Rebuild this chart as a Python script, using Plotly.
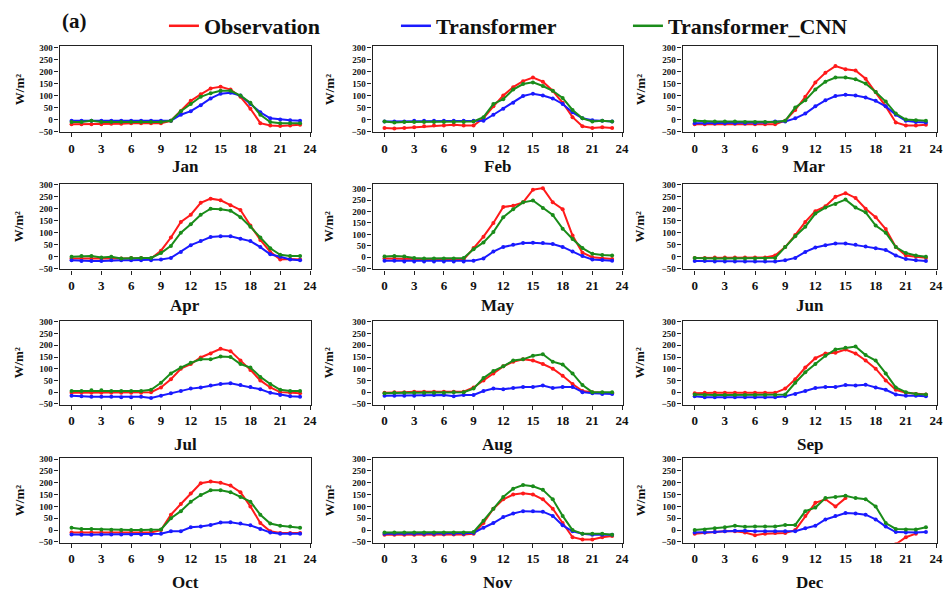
import plotly.graph_objects as go

hours = list(range(24))
months = ["Jan", "Feb", "Mar", "Apr", "May", "Jun", "Jul", "Aug", "Sep", "Oct", "Nov", "Dec"]
N = None

observation = {
    "Jan": [-20,-20,-20,-20,-18,-18,-15,-15,-15,-15,-5,35,78,105,130,137,125,95,45,-15,-25,-27,-25,-22],
    "Feb": [-35,-37,-35,-32,-28,-25,-25,-22,-25,-25,5,55,100,135,160,175,158,120,70,10,-28,-35,-32,-35],
    "Mar": [-20,-20,-18,-18,-18,-18,-20,-20,-20,-5,40,95,155,195,223,210,205,170,115,55,-12,-25,-25,-22],
    "Apr": [-8,-8,-8,-8,-5,-8,-5,-5,-8,25,80,145,175,225,242,235,215,195,130,70,20,-12,-10,-12],
    "May": [-5,-5,-5,-8,-10,-10,-10,-10,-10,40,90,150,220,225,240,295,302,240,210,95,20,0,-5,-8],
    "Jun": [-5,-5,-3,-3,-3,-3,-3,-3,5,40,90,145,190,210,250,265,245,200,165,115,40,5,0,-5],
    "Jul": [-3,-3,-3,-3,-3,-3,-3,-3,0,20,55,100,120,148,165,185,175,135,95,50,20,0,-3,-5],
    "Aug": [-3,0,0,2,2,2,2,2,2,20,50,80,110,130,140,135,120,100,70,35,5,0,-3,-5],
    "Sep": [-5,-3,-3,-3,-3,-3,-3,-3,-3,15,55,105,145,165,168,182,165,135,100,50,10,-3,-8,-10],
    "Oct": [-10,-10,-10,-10,-10,-10,-10,-10,-10,0,65,110,155,198,205,200,188,160,100,30,-5,-12,-12,-12],
    "Nov": [-20,-20,-20,-20,-20,-20,-18,-18,-18,-15,30,90,130,150,155,150,130,90,30,-30,-40,-40,-30,-25],
    "Dec": [-15,-10,-8,-5,-5,-10,-22,-15,-12,-12,0,60,115,130,100,135,N,N,N,N,-60,-30,-15,N],
}
transformer = {
    "Jan": [-5,-5,-5,-5,-5,-5,-5,-5,-5,-5,-5,20,35,60,88,108,112,100,65,30,5,0,-3,-5],
    "Feb": [-8,-8,-8,-5,-5,-5,-5,-5,-5,-5,-5,20,45,70,98,108,100,88,65,30,5,-3,-5,-8],
    "Mar": [-15,-15,-15,-15,-15,-15,-15,-12,-8,-8,5,25,55,80,98,103,100,92,78,55,20,-5,-10,-12],
    "Apr": [-15,-18,-18,-18,-15,-15,-15,-15,-15,-12,-5,20,48,65,82,85,85,75,65,40,10,0,-12,-15],
    "May": [-15,-15,-18,-18,-18,-18,-18,-18,-18,-15,-5,25,45,55,62,63,62,58,45,25,5,-10,-12,-15],
    "Jun": [-18,-18,-20,-20,-20,-20,-20,-20,-20,-15,-5,20,38,48,55,55,50,42,35,28,5,-10,-15,-18],
    "Jul": [-15,-18,-20,-20,-20,-22,-22,-20,-25,-15,-5,5,15,20,28,35,38,30,22,12,-3,-12,-18,-20],
    "Aug": [-15,-15,-15,-15,-12,-12,-12,-18,-12,-12,5,15,12,18,22,22,28,18,22,22,0,-5,-8,-8],
    "Sep": [-18,-22,-22,-22,-22,-22,-22,-22,-22,-18,-8,5,18,22,22,30,28,32,20,10,-10,-15,-15,-18],
    "Oct": [-18,-20,-20,-18,-18,-18,-18,-18,-18,-15,-5,-5,12,15,22,32,33,28,20,5,-10,-15,-15,-15],
    "Nov": [-15,-15,-15,-15,-15,-15,-15,-15,-15,-12,10,30,55,70,80,80,78,60,20,-5,-15,-20,-20,-20],
    "Dec": [-10,-10,-8,-5,-3,-3,-5,-5,-5,-5,-5,8,18,45,60,72,70,65,45,15,-8,-10,-10,-8],
}
transformer_cnn = {
    "Jan": [-10,-10,-5,-10,-10,-10,-10,-10,-10,-10,-5,35,65,95,110,120,120,100,70,20,-10,-15,-15,-15],
    "Feb": [-8,-12,-10,-10,-10,-10,-10,-10,-10,-8,10,65,85,125,148,155,140,120,90,40,5,-8,-5,-8],
    "Mar": [-5,-8,-8,-8,-8,-10,-10,-10,-10,-5,50,80,125,158,175,175,168,150,115,75,25,0,-3,-5],
    "Apr": [0,3,3,-3,0,-8,-5,-5,-5,15,45,100,135,175,200,198,192,165,125,80,35,8,3,3],
    "May": [3,5,3,-3,-5,-5,-5,-5,-3,35,65,110,175,210,240,248,215,185,125,80,40,15,10,8],
    "Jun": [-5,-8,-8,-8,-8,-8,-8,-8,-5,40,85,125,180,205,220,238,205,185,130,100,40,15,5,0],
    "Jul": [5,5,8,8,5,5,5,5,10,40,80,105,125,140,140,152,150,120,105,65,35,10,5,5],
    "Aug": [-5,-3,-3,-3,-3,-3,-3,0,0,15,60,90,110,135,140,155,162,130,118,80,30,0,0,0],
    "Sep": [-10,-12,-12,-12,-12,-12,-12,-12,-12,-10,40,85,120,155,182,190,195,158,135,80,20,0,-8,-10],
    "Oct": [10,5,5,3,2,0,0,0,0,3,50,80,120,148,168,168,160,140,120,65,28,18,15,10],
    "Nov": [-10,-10,-10,-10,-10,-10,-10,-10,-10,-8,40,90,140,175,190,185,170,130,60,0,-15,-15,-15,-20],
    "Dec": [0,3,8,12,18,14,15,15,15,22,22,80,95,135,140,145,135,130,100,30,5,3,3,12],
}

series = [
    ("Observation", observation, "#ff1a1a"),
    ("Transformer", transformer, "#1a1aff"),
    ("Transformer_CNN", transformer_cnn, "#1a8c1a"),
]

W, H = 945, 596
col_px = [(60, 313), (375, 627), (687, 943)]
row_px = [(43, 130), (182, 269), (321, 406), (460, 546)]
label_y = [165, 306, 446, 586]
ytitle_x = [19, 331, 644]

FONT = "Liberation Serif"
fig = go.Figure()
layout = {}
annotations = []

for i, m in enumerate(months):
    r, c = divmod(i, 3)
    k = i + 1
    xa = "xaxis" if k == 1 else f"xaxis{k}"
    ya = "yaxis" if k == 1 else f"yaxis{k}"
    xref = "x" if k == 1 else f"x{k}"
    yref = "y" if k == 1 else f"y{k}"
    x0, x1 = col_px[c]
    t, b = row_px[r]
    ytop = 322 if m == "May" else 305
    common = dict(showline=True, linecolor="#222", linewidth=1.3, mirror=True,
                  ticks="outside", ticklen=4, tickwidth=1.3, tickcolor="#222",
                  showgrid=False, zeroline=False)
    layout[xa] = dict(domain=[x0 / W, x1 / W], anchor=yref, range=[-1.2, 24.1],
                      tickmode="array", tickvals=list(range(0, 25, 3)),
                      tickfont=dict(family=FONT, size=13, color="#111", weight="bold"),
                      **common)
    layout[ya] = dict(domain=[1 - b / H, 1 - t / H], anchor=xref, range=[-53, ytop],
                      tickmode="array", tickvals=list(range(-50, 301, 50)),
                      tickfont=dict(family=FONT, size=9, color="#111", weight="bold"),
                      **common)
    for name, data, color in series:
        fig.add_trace(go.Scatter(x=hours, y=data[m], mode="lines+markers", name=name,
                                 line=dict(color=color, width=2),
                                 marker=dict(color=color, size=4),
                                 showlegend=False, xaxis=xref, yaxis=yref))
    annotations.append(dict(text=m, x=(x0 + x1) / 2 / W, y=1 - label_y[r] / H,
                            xref="paper", yref="paper", showarrow=False,
                            font=dict(family=FONT, size=17, color="#111", weight="bold"),
                            xanchor="center", yanchor="middle"))
    annotations.append(dict(text="W/m²", x=ytitle_x[c] / W, y=1 - (t + b) / 2 / H,
                            xref="paper", yref="paper", showarrow=False, textangle=-90,
                            font=dict(family=FONT, size=13, color="#111", weight="bold"),
                            xanchor="center", yanchor="middle"))

for name, data, color in series:
    fig.add_trace(go.Scatter(x=[None], y=[None], mode="lines", name=name,
                             line=dict(color=color, width=2.5), showlegend=True))

annotations.append(dict(text="(a)", x=75 / W, y=1 - 17 / H, xref="paper", yref="paper",
                        showarrow=False, xanchor="center", yanchor="middle",
                        font=dict(family=FONT, size=21, color="#111", weight="bold")))

fig.update_layout(
    width=W, height=H, margin=dict(l=0, r=0, t=0, b=0),
    paper_bgcolor="white", plot_bgcolor="white",
    showlegend=True,
    legend=dict(orientation="h", x=165 / W, y=1 - 1 / H, xanchor="left", yanchor="top",
                font=dict(family=FONT, size=22, color="#111", weight="bold"),
                entrywidth=187, bgcolor="rgba(0,0,0,0)"),
    annotations=annotations,
    **layout,
)

fig.write_html("out.html")
